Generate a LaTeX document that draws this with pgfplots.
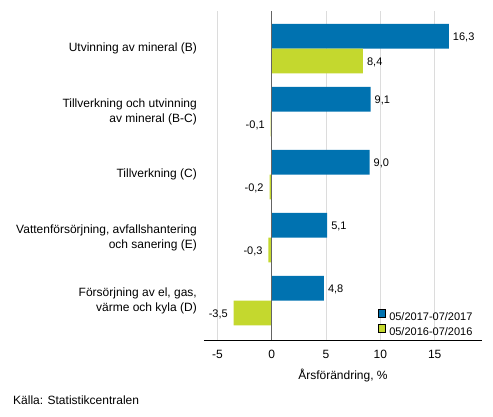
\documentclass[border=0pt]{standalone}
\usepackage{pgfplots}
\pgfplotsset{compat=1.18}
\usepackage{fontspec}
\setmainfont{Liberation Sans}

\definecolor{sfblue}{RGB}{0,114,176}
\definecolor{sfgreen}{RGB}{196,216,46}
\definecolor{gridgray}{RGB}{220,220,220}
\definecolor{zerogray}{RGB}{100,100,100}

% values: 05/2017-07/2017 (blue), 05/2016-07/2016 (green)
\pgfplotstableread{
cat val
0 16.3
1 9.1
2 9.0
3 5.1
4 4.8
}\blueseries
\pgfplotstableread{
cat val
0 8.4
1 -0.1
2 -0.2
3 -0.3
4 -3.5
}\greenseries

\begin{document}
\begin{tikzpicture}[font=\fontsize{12}{15}\selectfont]
\useasboundingbox (0,0) rectangle (493pt,-416pt);
\begin{axis}[
  at={(204pt,-340pt)}, anchor=south west,
  scale only axis, width=278pt, height=329pt,
  xbar, bar width=24.7pt,
  xmin=-6.23, xmax=19.35,
  ymin=-0.598, ymax=4.624,
  y dir=reverse,
  axis x line=bottom, axis y line=left,
  axis line style={black, line width=0.8pt, -},
  y axis line style={draw=none},
  xtick={-5,0,5,10,15},
  major tick length=0pt,
  xmajorgrids, grid style={gridgray, line width=0.8pt},
  ytick={0,1,2,3,4},
  yticklabels={{Utvinning av mineral (B)},
    {Tillverkning och utvinning\\av mineral (B-C)},
    {Tillverkning (C)},
    {Vattenförsörjning, avfallshantering\\och sanering (E)},
    {Försörjning av el, gas,\\värme och kyla (D)}},
  yticklabel style={align=right, inner sep=0pt, xshift=-7pt},
  xticklabel style={anchor=base, yshift=-18.3pt},
  /pgf/number format/assume math mode=true,
  xlabel={Årsförändring, \%},
  xlabel style={at={(axis description cs:0.5,0)}, anchor=base, yshift=-39pt},
  point meta=x,
  visualization depends on={x \as \rawval},
  nodes near coords={\pgfmathprintnumber[fixed,fixed zerofill,precision=1,use comma,assume math mode=true]{\pgfplotspointmeta}},
  nodes near coords align={horizontal},
  every node near coord/.append style={font=\fontsize{11}{13}\selectfont, black,
    xshift={(\rawval<0)*(-3)+0.6}, yshift=-1.5pt},
  legend cell align=left,
  legend style={draw=none, fill=none, inner sep=0pt,
    at={(0.6234,0.0942)}, anchor=north west,
    font=\fontsize{11}{13}\selectfont,
    nodes={inner sep=2pt}, row sep=0pt},
  legend image code/.code={\draw[#1, draw=black, line width=0.5pt] (0pt,0.7pt) rectangle (7.3pt,8pt);
    \path (9.5pt,0pt);},
]
\addplot[bar shift=12.35pt, fill=sfblue, draw=none]
  table[x=val, y=cat] {\blueseries};
\addlegendentry{05/2017-07/2017}
\addplot[bar shift=-12.35pt, fill=sfgreen, draw=none]
  table[x=val, y=cat] {\greenseries};
\addlegendentry{05/2016-07/2016}
\draw[zerogray, line width=1.5pt] (axis cs:0,-0.598) -- (axis cs:0,4.624);
\end{axis}
\node[anchor=base west, inner sep=0pt] at (13pt,-404pt) {Källa: Statistikcentralen};
\end{tikzpicture}
\end{document}
